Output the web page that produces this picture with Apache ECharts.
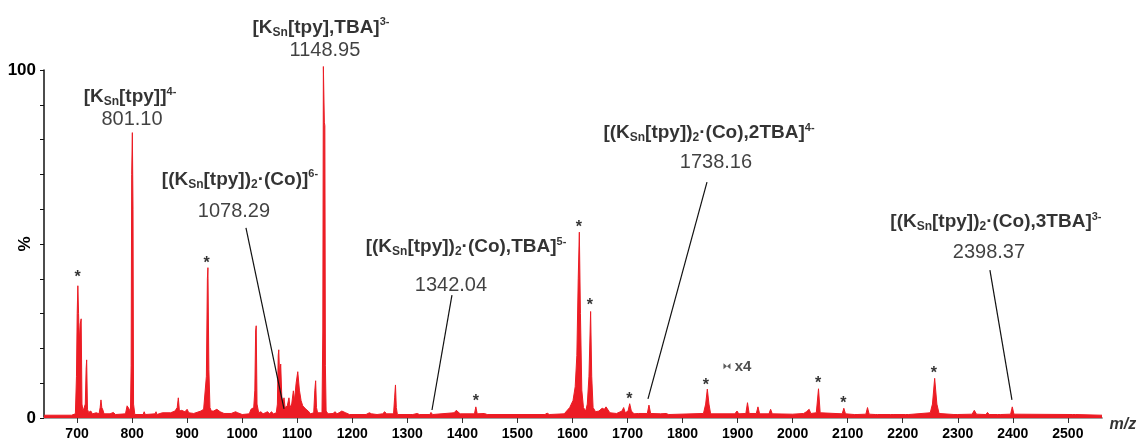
<!DOCTYPE html>
<html><head><meta charset="utf-8">
<script src="https://cdn.jsdelivr.net/npm/echarts@6/dist/echarts.min.js"></script>
<style>html,body{margin:0;padding:0;background:#fff}#c{width:1138px;height:444px}</style>
</head><body><div id="c"></div>
<script>
// ---- data ----
const spectrum = [
[640,0.8],[690,0.8],[697,1.2],[699,12],[700.3,30],[701.5,38],[702.8,30],[704.2,22],[705.8,27],[707.5,28.5],[709,4],[711,2],[713,1.6],[715,4],[716.5,14],[717.5,16.7],[719,2.5],[721,1.6],[725,2],[728,1.2],[735,1.5],[740,1.2],[742,3],[743.5,5.2],[745,3],[747,2.3],[749,1.2],[760,1.2],[766,1.6],[768,1.8],[770,1],[788,1.2],[791,3.5],[793,4],[795,2.5],[797,1.5],[798.3,15],[799.3,70],[800.5,82],[801.7,60],[802.7,4],[805,1],[820,1],[822,1.8],[824,1],[842,1.2],[843.5,1.8],[845,1],[855,1.5],[858,1.2],[870,1.5],[878,2],[882,3],[884,5.8],[886,2],[890,2.2],[896,1.8],[900,2.5],[903,1.5],[912,1.3],[925,2],[930,2.5],[933,3],[935,12],[936.8,40],[937.8,43.2],[939.5,14],[941.5,3],[944,2],[948,2],[954,2.5],[960,1.8],[967,1.3],[980,1.3],[988,1.8],[992,1.5],[1000,1],[1013,1.2],[1016,2.5],[1018,3],[1021,3],[1023,8],[1024.5,25],[1025.5,26.5],[1027,4],[1030,1.5],[1034,1.8],[1038,1.2],[1042,1.5],[1046,1.8],[1050,1.2],[1053,1.8],[1057,1.2],[1062,1.5],[1064,4],[1065.5,18],[1066.5,19.6],[1068,12],[1070,15.5],[1072,6],[1074,4],[1076,5.8],[1078,3],[1082,3.5],[1085,5.8],[1087,3],[1090,4],[1093,7.8],[1095,5],[1098,10],[1101,13.3],[1104,8],[1107,5],[1110,3.5],[1113,3],[1116,2.5],[1120,2],[1124,1.2],[1130,1.5],[1132,8],[1133.5,10.7],[1135,3],[1137,1.5],[1145,1.5],[1146.5,25],[1147.5,101],[1148.8,101],[1149.3,85],[1150.2,84],[1151.2,15],[1152.5,2],[1156,1.2],[1165,1.3],[1169,1.8],[1172,1.2],[1176,1.5],[1181,2],[1184,2.2],[1188,1.5],[1195,1],[1225,1],[1231,1.5],[1235,1.2],[1245,1],[1255,1.2],[1259,1.8],[1262,1.2],[1275,1.2],[1277,6],[1278.5,9.5],[1280,3],[1282,1],[1305,1],[1307,1.4],[1310,1],[1318,1.3],[1322,1],[1341,1],[1343,1.6],[1346,1],[1385,1.5],[1389,2.2],[1392,2],[1396,1.2],[1422,1.2],[1424.5,3.2],[1427,1.2],[1440,1.3],[1445,1],[1550,1],[1554,1.4],[1558,1],[1585,1.2],[1595,3],[1601,5],[1605,9],[1608,18],[1610.5,40],[1612.5,53.4],[1614.5,30],[1617,8],[1620,3],[1624,2],[1627,4],[1630,12],[1633,30.6],[1635,12],[1637.5,3],[1642,1.8],[1648,2],[1654,2.8],[1658,2.5],[1661,3.2],[1664,3],[1668,1.5],[1680,1.3],[1690,2],[1693,3],[1696,1.5],[1701,2],[1704,4.1],[1707,2],[1712,1.2],[1720,1.3],[1736,1.3],[1739,3.7],[1742,1.3],[1760,1.2],[1770,1.3],[1775,1],[1838,1.3],[1842,4],[1845,8.3],[1848,4],[1851,1.2],[1895,1.2],[1899,2],[1902,1.2],[1915,1.3],[1918,4.4],[1921,1.3],[1934,1.3],[1937,3.2],[1940,1.2],[1957,1.2],[1960,2.5],[1963,1.2],[2000,1.1],[2020,1.3],[2025,1.8],[2030,2.5],[2033,1.3],[2043,1.5],[2047,8.4],[2050,1.5],[2090,1.2],[2093,2.8],[2096,1.2],[2112,1],[2114,1.3],[2117,1],[2133,1.1],[2136,3],[2139,1.1],[2150,1],[2152,1.2],[2154,1],[2178,1],[2181,1.3],[2184,1],[2205,1],[2208,1.5],[2211,1],[2250,1.5],[2254,4],[2258,11.4],[2262,4],[2266,1.3],[2293,1],[2296,1.3],[2299,1],[2326,1.1],[2330,2.2],[2334,1.1],[2351,1],[2354,1.6],[2357,1],[2372,1],[2375,1.3],[2378,1],[2396,1.1],[2399,3.2],[2402,1.1],[2508,1],[2511,1.3],[2514,1],[2562,0.8]
];
const xTicks = [700,800,900,1000,1100,1200,1300,1400,1500,1600,1700,1800,1900,2000,2100,2200,2300,2400,2500];
const yTicks = [0,10,20,30,40,50,60,70,80,90,100];
const yLabels = [0,100];
const starMz  = [701.2, 935.5, 1424.7, 1611.8, 1631.8, 1703.2, 1842.5, 2046.5, 2092, 2256.7];
const starPct = [41.1, 45.1, 5.7, 55.5, 33.1, 6.1, 10.1, 10.7, 4.9, 13.6];
const ionFormulas = [
  '[K{sub|Sn}[tpy],TBA]{sup|3-}',
  '[K{sub|Sn}[tpy]]{sup|4-}',
  '[(K{sub|Sn}[tpy]){sub|2}·(Co)]{sup|6-}',
  '[(K{sub|Sn}[tpy]){sub|2}·(Co),TBA]{sup|5-}',
  '[(K{sub|Sn}[tpy]){sub|2}·(Co),2TBA]{sup|4-}',
  '[(K{sub|Sn}[tpy]){sub|2}·(Co),3TBA]{sup|3-}'
];
const ionValues = ['1148.95','801.10','1078.29','1342.04','1738.16','2398.37'];

// ---- layout (label anchors in data space) ----
const formulaAt = [[1143.2,112.1],[796.2,92.2],[996,68.4],[1406.6,49.1],[1848,81.9],[2369.3,56.3]];
const valueAt   = [[1150.4,105.7],[799.9,85.9],[985.1,59.2],[1379.3,38.2],[1860.7,73.3],[2356.6,47.7]];
const leaders = [
  [[1006.9,54.6],[1076,2.6]],
  [[1381.1,35.3],[1344.8,2.3]],
  [[1844.4,67.8],[1737.2,5.5]],
  [[2358.4,42.5],[2398.4,5.2]]
];
const zoomMarkAt = [1880.7,14.9];
const zoomTextAt = [1909.8,14.7];
const axisNameAt = [2600,-1.8];

const FONT = 'Liberation Sans, Arial, sans-serif';
const RED = '#ec1c24';
const INK = '#000';

const chart = echarts.init(document.getElementById('c'), null, {renderer:'canvas'});
const hidden = {color:'rgba(0,0,0,0)'};
chart.setOption({
  animation:false,
  backgroundColor:'#fff',
  grid:{left:44, right:36, top:70, bottom:26, containLabel:false, outerBoundsMode:'none'},
  xAxis:{
    type:'value', min:640, max:2562,
    axisLine:{show:true, lineStyle:{color:'#a0a0a0', width:2}},
    axisTick:{show:true, length:5, lineStyle:{color:'#333', width:1}, customValues:xTicks},
    axisLabel:{customValues:xTicks, formatter:v=>String(v), margin:9, fontSize:14, fontWeight:'bold', color:INK, fontFamily:FONT},
    splitLine:{show:false}
  },
  yAxis:{
    type:'value', min:0, max:100, interval:10,
    axisLine:{show:true, lineStyle:{color:'#111', width:1.5}},
    axisTick:{show:true, length:4, lineStyle:{color:'#111', width:1}, customValues:yTicks},
    axisLabel:{customValues:yLabels, formatter:v=>String(v), margin:8, fontSize:17, fontWeight:'bold', color:INK, fontFamily:FONT},
    splitLine:{show:false},
    name:'%', nameLocation:'middle', nameRotate:90, nameGap:10, nameMoveOverlap:false,
    nameTextStyle:{fontSize:17, fontWeight:'bold', color:INK, fontFamily:FONT}
  },
  series:[
    {
      type:'line', data:spectrum, clip:false, showSymbol:false, symbol:'none', silent:true,
      lineStyle:{color:RED, width:1}, areaStyle:{color:RED, opacity:1}, z:2,
      markLine:{
        silent:true, symbol:['none','none'], label:{show:false},
        lineStyle:{color:'#111', width:1.2, type:'solid'},
        data: leaders.map(l=>[{coord:l[0]},{coord:l[1]}])
      }
    },
    {
      type:'scatter', clip:false, silent:true, symbolSize:1, itemStyle:hidden, z:5,
      data: ionFormulas.map((f,i)=>({value:formulaAt[i], name:f})),
      label:{show:true, position:'inside', formatter:p=>p.name, color:INK, fontFamily:FONT,
        fontSize:19, fontWeight:'bold', lineHeight:22,
        rich:{
          sub:{fontSize:12, fontWeight:'bold', fontFamily:FONT, color:INK, verticalAlign:'bottom', lineHeight:12},
          sup:{fontSize:11, fontWeight:'bold', fontFamily:FONT, color:INK, verticalAlign:'top', lineHeight:11}
        }}
    },
    {
      type:'scatter', clip:false, silent:true, symbolSize:1, itemStyle:hidden, z:5,
      data: ionValues.map((v,i)=>({value:valueAt[i], name:v})),
      label:{show:true, position:'inside', formatter:p=>p.name, color:'#111', fontFamily:FONT, fontSize:20}
    },
    {
      type:'scatter', clip:false, silent:true, symbolSize:1, itemStyle:hidden, z:5,
      data: starMz.map((m,i)=>[m, starPct[i]]),
      label:{show:true, position:'inside', formatter:'*', color:INK, fontFamily:FONT, fontSize:16, fontWeight:'bold', offset:[0,3]}
    },
    {
      type:'scatter', clip:false, silent:true, z:5,
      symbol:'path://M0,0L5,3L0,6Z M10,0L5,3L10,6Z', symbolSize:[7,6],
      itemStyle:{color:'#333'},
      data:[zoomMarkAt]
    },
    {
      type:'scatter', clip:false, silent:true, symbolSize:1, itemStyle:hidden, z:5,
      data:[{value:zoomTextAt, name:'x4'}],
      label:{show:true, position:'inside', formatter:p=>p.name, color:'#222', fontFamily:FONT, fontSize:15, fontWeight:'bold'}
    },
    {
      type:'scatter', clip:false, silent:true, symbolSize:1, itemStyle:hidden, z:5,
      data:[{value:axisNameAt, name:'m/z'}],
      label:{show:true, position:'inside', formatter:p=>p.name, color:INK, fontFamily:FONT, fontSize:16, fontWeight:'bold', fontStyle:'italic'}
    }
  ]
});
</script>
</body></html>
